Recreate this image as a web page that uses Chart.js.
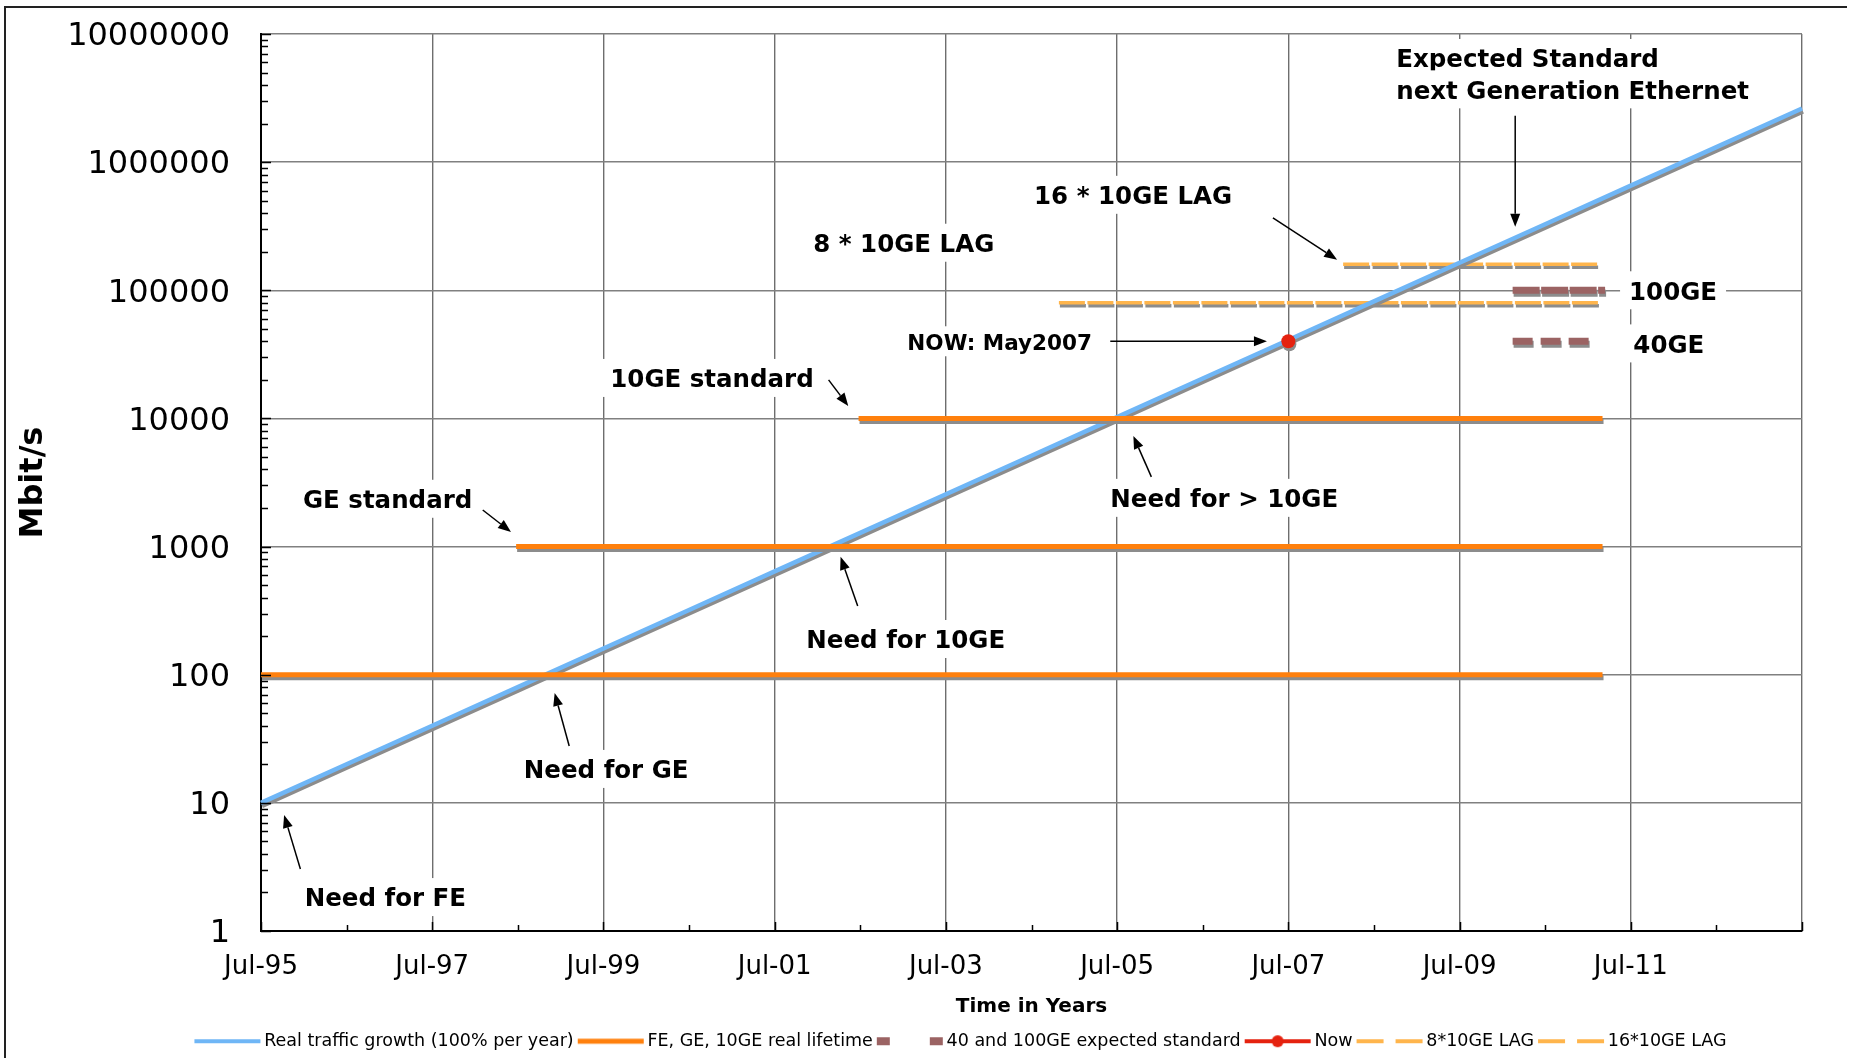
<!DOCTYPE html>
<html>
<head>
<meta charset="utf-8">
<script src="https://cdn.jsdelivr.net/npm/chart.js@4.4.1/dist/chart.umd.min.js"></script>
<style>
  html, body { margin: 0; padding: 0; background: #fff; }
</style>
</head>
<body>
<canvas id="ethChart" width="1851" height="1058"></canvas>
<script>
// x values are decimal years (Jul-95 = 1995.5), y values in Mbit/s
const trafficYears = [1995.5, 1996.5, 1997.5, 1998.5, 1999.5, 2000.5, 2001.5, 2002.5, 2003.5, 2004.5,
    2005.5, 2006.5, 2007.5, 2008.5, 2009.5, 2010.5, 2011.5, 2012.5, 2013.5];
const trafficMbit = [10, 20, 40, 80, 160, 320, 640, 1280, 2560, 5120,
    10240, 20480, 40960, 81920, 163840, 327680, 655360, 1310720, 2621440];

const lifetimeMbit = [100, 1000, 10000];
const lifetimeStart = [1995.5, 1998.48, 2002.48];
const lifetimeEnd = [2011.17, 2011.17, 2011.17];

const stdMbit = [40000, 100000];
const stdStart = [2010.12, 2010.12];
const stdEnd = [2011.03, 2011.2];

const lagMbit = [80000, 160000];
const lagStart = [2004.82, 2008.14];
const lagEnd = [2011.13, 2011.13];

const nowYear = [2007.5];
const nowMbit = [40000];

const xTickYears = [1995.5, 1997.5, 1999.5, 2001.5, 2003.5, 2005.5, 2007.5, 2009.5, 2011.5, 2013.5];
const xTickLabels = ["Jul-95", "Jul-97", "Jul-99", "Jul-01", "Jul-03", "Jul-05", "Jul-07", "Jul-09", "Jul-11", ""];
const yTickValues = [1, 10, 100, 1000, 10000, 100000, 1000000, 10000000];

// text boxes and arrows of the slide, anchored in data units
const notes = [
    { text: "Expected Standard", year: 2008.76, mbit: 6.5e6 },
    { text: "next Generation Ethernet", year: 2008.76, mbit: 3.7e6 },
    { text: "16 * 10GE LAG", year: 2004.53, mbit: 556000 },
    { text: "8 * 10GE LAG", year: 2001.95, mbit: 235000 },
    { text: "100GE", year: 2011.48, mbit: 100000 },
    { text: "40GE", year: 2011.53, mbit: 38500 },
    { text: "NOW: May2007", year: 2003.05, mbit: 40000, small: true },
    { text: "10GE standard", year: 1999.58, mbit: 20700 },
    { text: "Need for > 10GE", year: 2005.42, mbit: 2400 },
    { text: "GE standard", year: 1995.99, mbit: 2360 },
    { text: "Need for 10GE", year: 2001.87, mbit: 190 },
    { text: "Need for GE", year: 1998.57, mbit: 18.4 },
    { text: "Need for FE", year: 1996.01, mbit: 1.84 },
];
const arrows = [
    [2010.15, 2.3e6, 2010.15, 313000],
    [2007.32, 368000, 2008.07, 173000],
    [2005.42, 40000, 2007.25, 40000],
    [2002.13, 20000, 2002.36, 12500],
    [2005.9, 3500, 2005.69, 7300],
    [1998.09, 1930, 1998.42, 1300],
    [2002.47, 344, 2002.27, 831],
    [1999.1, 27.8, 1998.93, 72],
    [1995.96, 3.05, 1995.77, 8.05],
];

const BLUE = "#6fb6f6";
const ORANGE = "#ff800d";
const MAUVE = "#9b6363";
const LIGHT_ORANGE = "#ffb54c";
const RED = "#e5220f";
const PLOT_BOTTOM = 931;

Chart.defaults.font.family = "'DejaVu Sans', Verdana, sans-serif";
Chart.defaults.color = "#000";

function segments(starts, ends, levels) {
    const pts = [];
    levels.forEach((lv, i) => {
        pts.push({ x: starts[i], y: lv }, { x: ends[i], y: lv }, { x: ends[i], y: null });
    });
    return pts;
}

function legendSymbol(draw) {
    const c = document.createElement("canvas");
    c.width = 76;
    c.height = 16;
    draw(c.getContext("2d"));
    return c;
}

const legendItems = [
    {
        text: "Real traffic growth (100% per year)",
        img: legendSymbol((g) => { g.fillStyle = BLUE; g.fillRect(8, 6, 66, 4); }),
    },
    {
        text: "FE, GE, 10GE real lifetime",
        img: legendSymbol((g) => { g.fillStyle = ORANGE; g.fillRect(8, 5.5, 66, 5); }),
    },
    {
        text: "40 and 100GE expected standard",
        img: legendSymbol((g) => {
            g.fillStyle = MAUVE;
            g.fillRect(8, 4, 13, 8);
            g.fillRect(61, 4, 13, 8);
        }),
    },
    {
        text: "Now",
        img: legendSymbol((g) => {
            g.fillStyle = RED;
            g.fillRect(8, 6, 66, 4);
            g.beginPath();
            g.arc(41, 8, 6, 0, Math.PI * 2);
            g.fill();
        }),
    },
    {
        text: "8*10GE LAG",
        img: legendSymbol((g) => {
            g.fillStyle = LIGHT_ORANGE;
            g.fillRect(8, 6, 27, 4);
            g.fillRect(47, 6, 27, 4);
        }),
    },
    {
        text: "16*10GE LAG",
        img: legendSymbol((g) => {
            g.fillStyle = LIGHT_ORANGE;
            g.fillRect(8, 6, 27, 4);
            g.fillRect(47, 6, 27, 4);
        }),
    },
];

const datasets = [
    {
        label: "Real traffic growth (100% per year)",
        data: trafficYears.map((x, i) => ({ x, y: trafficMbit[i] })),
        borderColor: BLUE,
        borderWidth: 4.5,
        pointRadius: 0,
        clip: false,
        order: 2,
    },
    {
        label: "FE, GE, 10GE real lifetime",
        data: segments(lifetimeStart, lifetimeEnd, lifetimeMbit),
        borderColor: ORANGE,
        borderWidth: 5,
        pointRadius: 0,
        spanGaps: false,
        order: 1,
    },
    {
        label: "100GE",
        data: [{ x: stdStart[1], y: stdMbit[1] }, { x: stdEnd[1], y: stdMbit[1] }],
        borderColor: MAUVE,
        borderWidth: 7,
        borderDash: [27, 1.5],
        pointRadius: 0,
        order: 3,
    },
    {
        label: "40 and 100GE expected standard",
        data: [{ x: stdStart[0], y: stdMbit[0] }, { x: stdEnd[0], y: stdMbit[0] }],
        borderColor: MAUVE,
        borderWidth: 7,
        borderDash: [20, 8],
        pointRadius: 0,
        order: 3,
    },
    {
        label: "Now",
        data: [{ x: nowYear[0], y: nowMbit[0] }],
        borderColor: RED,
        backgroundColor: RED,
        borderWidth: 0,
        pointRadius: 7,
        showLine: false,
        order: 0,
    },
    {
        label: "8*10GE LAG",
        data: [{ x: lagStart[0], y: lagMbit[0] }, { x: lagEnd[0], y: lagMbit[0] }],
        borderColor: LIGHT_ORANGE,
        borderWidth: 3.5,
        borderDash: [26, 2.5],
        pointRadius: 0,
        order: 4,
    },
    {
        label: "16*10GE LAG",
        data: [{ x: lagStart[1], y: lagMbit[1] }, { x: lagEnd[1], y: lagMbit[1] }],
        borderColor: LIGHT_ORANGE,
        borderWidth: 3.5,
        borderDash: [26, 2.5],
        pointRadius: 0,
        order: 4,
    },
];

// white page with the slide frame (top and left edges)
const pageFrame = {
    id: "pageFrame",
    beforeDraw: (chart) => {
        const ctx = chart.ctx;
        ctx.save();
        ctx.fillStyle = "#fff";
        ctx.fillRect(0, 0, chart.width, chart.height);
        ctx.strokeStyle = "#222";
        ctx.lineWidth = 2;
        ctx.beginPath();
        ctx.moveTo(5, chart.height);
        ctx.lineTo(5, 7);
        ctx.lineTo(1847, 7);
        ctx.stroke();
        ctx.restore();
    },
};

// the Excel legend is centred a bit right of the page centre and sits low
const legendPlacement = {
    id: "legendPlacement",
    afterLayout: (chart) => {
        const lg = chart.legend;
        if (!lg) return;
        lg.left = 118;
        lg.width = lg.right - lg.left;
        lg.top += 7;
        lg.bottom += 7;
    },
};

// grey drop shadow under every series, as in the Excel original
const seriesShadow = {
    id: "seriesShadow",
    beforeDatasetDraw: (chart) => {
        const ctx = chart.ctx;
        ctx.save();
        ctx.shadowColor = "#8c8c8c";
        ctx.shadowOffsetX = 1;
        ctx.shadowOffsetY = 3;
        ctx.shadowBlur = 0;
    },
    afterDatasetDraw: (chart) => {
        chart.ctx.restore();
    },
};

// small tick marks inside the axes
const innerTicks = {
    id: "innerTicks",
    afterDatasetsDraw: (chart) => {
        const ctx = chart.ctx;
        const { left, bottom } = chart.chartArea;
        const xs = chart.scales.x;
        const ys = chart.scales.y;
        ctx.save();
        ctx.strokeStyle = "#000";
        ctx.lineWidth = 1.5;
        ctx.beginPath();
        yTickValues.forEach((v, i) => {
            const last = i === yTickValues.length - 1;
            for (let k = 1; k <= (last ? 1 : 9); k++) {
                const y = Math.round(ys.getPixelForValue(v * k)) + 0.5;
                ctx.moveTo(left, y);
                ctx.lineTo(left + (k === 1 ? 10 : 7), y);
            }
        });
        for (let yr = xs.min; yr <= xs.max; yr += 1) {
            const x = Math.round(xs.getPixelForValue(yr)) + 0.5;
            const major = Math.round(yr - xs.min) % 2 === 0;
            ctx.moveTo(x, bottom);
            ctx.lineTo(x, bottom - (major ? 9 : 6));
        }
        ctx.stroke();
        ctx.restore();
    },
};

const callouts = {
    id: "callouts",
    afterDraw: (chart) => {
        const ctx = chart.ctx;
        const xs = chart.scales.x;
        const ys = chart.scales.y;
        ctx.save();
        ctx.textAlign = "left";
        ctx.textBaseline = "middle";
        notes.forEach((n) => {
            const size = n.small ? 21.5 : 24.5;
            ctx.font = "bold " + size + "px 'DejaVu Sans', Verdana, sans-serif";
            const x = xs.getPixelForValue(n.year);
            const y = ys.getPixelForValue(n.mbit);
            const w = ctx.measureText(n.text).width;
            const half = n.small ? 15 : 19;
            ctx.fillStyle = "#fff";
            ctx.fillRect(x - 9, y - half, w + 18, half * 2);
            ctx.fillStyle = "#000";
            ctx.fillText(n.text, x, y + 3);
        });

        ctx.strokeStyle = "#000";
        ctx.fillStyle = "#000";
        ctx.lineWidth = 1.5;
        arrows.forEach((a) => {
            const x0 = xs.getPixelForValue(a[0]);
            const y0 = ys.getPixelForValue(a[1]);
            const x1 = xs.getPixelForValue(a[2]);
            const y1 = ys.getPixelForValue(a[3]);
            const ang = Math.atan2(y1 - y0, x1 - x0);
            const head = 13;
            const bx = x1 - Math.cos(ang) * head;
            const by = y1 - Math.sin(ang) * head;
            ctx.beginPath();
            ctx.moveTo(x0, y0);
            ctx.lineTo(bx, by);
            ctx.stroke();
            ctx.beginPath();
            ctx.moveTo(x1, y1);
            ctx.lineTo(bx + Math.sin(ang) * 5, by - Math.cos(ang) * 5);
            ctx.lineTo(bx - Math.sin(ang) * 5, by + Math.cos(ang) * 5);
            ctx.closePath();
            ctx.fill();
        });
        ctx.restore();
    },
};

new Chart(document.getElementById("ethChart"), {
    type: "line",
    data: { datasets },
    options: {
        responsive: false,
        animation: false,
        layout: { padding: { left: 0, right: 49, top: 34, bottom: 5 } },
        scales: {
            x: {
                type: "linear",
                min: 1995.5,
                max: 2013.5,
                afterBuildTicks: (scale) => {
                    scale.ticks = xTickYears.map((v) => ({ value: v }));
                },
                afterFit: (scale) => {
                    const legendH = scale.chart.legend ? scale.chart.legend.height : 30;
                    scale.height = scale.chart.height - 5 - legendH - PLOT_BOTTOM;
                },
                ticks: {
                    autoSkip: false,
                    maxRotation: 0,
                    padding: 0,
                    font: { size: 26 },
                    callback: (value, index) => xTickLabels[index],
                },
                grid: { color: "#6e6e6e", lineWidth: 1.4, tickLength: 21, tickColor: "rgba(0,0,0,0)" },
                border: { color: "#000", width: 2 },
                title: {
                    display: true,
                    text: "Time in Years",
                    font: { size: 20, weight: "bold" },
                    padding: { top: 0, bottom: 4 },
                },
            },
            y: {
                type: "logarithmic",
                min: 1,
                max: 10000000,
                afterBuildTicks: (scale) => {
                    scale.ticks = yTickValues.map((v) => ({ value: v, major: true }));
                },
                afterFit: (scale) => {
                    scale.width = 261;
                },
                ticks: {
                    autoSkip: false,
                    padding: 0,
                    labelOffset: 3,
                    font: { size: 32 },
                    callback: (value) => String(value),
                },
                grid: { color: "#808080", lineWidth: 1.5, tickLength: 31, tickColor: "rgba(0,0,0,0)" },
                border: { color: "#000", width: 2 },
                title: {
                    display: true,
                    text: "Mbit/s",
                    font: { size: 32, weight: "bold" },
                    padding: { top: 14, bottom: 0 },
                },
            },
        },
        plugins: {
            legend: {
                position: "bottom",
                labels: {
                    usePointStyle: true,
                    pointStyleWidth: 62,
                    padding: 3,
                    font: { size: 17.5 },
                    generateLabels: () =>
                        legendItems.map((item) => ({
                            text: item.text,
                            pointStyle: item.img,
                            fillStyle: "#fff",
                            strokeStyle: "#fff",
                            lineWidth: 0,
                            hidden: false,
                        })),
                },
            },
            tooltip: { enabled: false },
        },
    },
    plugins: [pageFrame, legendPlacement, seriesShadow, innerTicks, callouts],
});
</script>
</body>
</html>
